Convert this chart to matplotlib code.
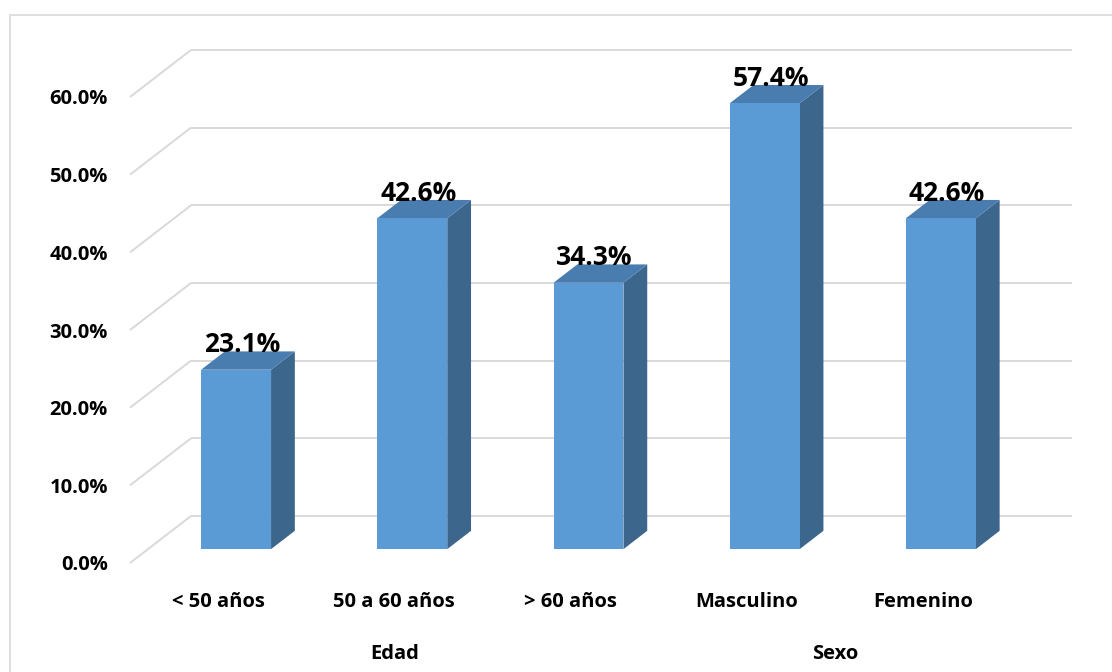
import matplotlib
matplotlib.use("Agg")
import matplotlib.pyplot as plt
from matplotlib.patches import Polygon, Rectangle
from matplotlib.transforms import blended_transform_factory

# Data
categories = ["< 50 años", "50 a 60 años", "> 60 años", "Masculino", "Femenino"]
values = [23.1, 42.6, 34.3, 57.4, 42.6]
groups = ["Edad", "Sexo"]
group_members = [[0, 1, 2], [3, 4]]
y_ticks = [0, 10, 20, 30, 40, 50, 60]

# Styling
FONT = ["Open Sans", "DejaVu Sans"]
FRONT_COLOR = "#5b9bd5"
SIDE_COLOR = "#3c668c"
TOP_COLOR = "#4a7daf"
GRID_COLOR = "#d9d9d9"

# 3-D geometry (depth of the floor, bar placement inside that depth)
DEPTH_X = 0.346      # category units
DEPTH_Y = 6.05       # percent units
BAR_FRONT = 0.295    # fraction of depth where the bar front sits
BAR_DEPTH = 0.39     # fraction of depth taken by the bar
BAR_W = 0.397

W, H = 1112, 672
fig = plt.figure(figsize=(W / 100, H / 100), dpi=100)
fig.patch.set_facecolor("white")

# chart-area frame (top and left edges visible)
fig.add_artist(Rectangle((10 / W, -0.05), 1.2, 1 - 15 / H + 0.05,
                         transform=fig.transFigure, fill=False,
                         edgecolor=GRID_COLOR, linewidth=1.2))

ax = fig.add_axes([130 / W, (H - 563) / H, 881 / W, 466 / H])
ax.set_xlim(-0.5, len(categories) - 0.5)
ax.set_ylim(0, 60)
for s in ax.spines.values():
    s.set_visible(False)
ax.patch.set_alpha(0)

# side-wall diagonals and back-wall gridlines
x0, x1 = -0.5, len(categories) - 0.5
for v in y_ticks:
    ax.plot([x0, x0 + DEPTH_X], [v, v + DEPTH_Y], color=GRID_COLOR,
            lw=1.4, clip_on=False, zorder=1, solid_capstyle="butt")
    ax.plot([x0 + DEPTH_X, x1 + DEPTH_X], [v + DEPTH_Y, v + DEPTH_Y],
            color=GRID_COLOR, lw=1.4, clip_on=False, zorder=1,
            solid_capstyle="butt")

# 3-D columns
base = BAR_FRONT * DEPTH_Y
sx = BAR_DEPTH * DEPTH_X
sy = BAR_DEPTH * DEPTH_Y
for i, v in enumerate(values):
    xc = i + BAR_FRONT * DEPTH_X
    xl, xr = xc - BAR_W / 2, xc + BAR_W / 2
    top = base + v
    ax.add_patch(Polygon([(xr, base), (xr + sx, base + sy),
                          (xr + sx, top + sy), (xr, top)], closed=True,
                         facecolor=SIDE_COLOR, edgecolor="none",
                         clip_on=False, zorder=3))
    ax.add_patch(Polygon([(xl, top), (xr, top), (xr + sx, top + sy),
                          (xl + sx, top + sy)], closed=True,
                         facecolor=TOP_COLOR, edgecolor="none",
                         clip_on=False, zorder=3))
    ax.bar(xc, v, width=BAR_W, bottom=base, color=FRONT_COLOR,
           edgecolor="none", clip_on=False, zorder=4)
    ax.annotate(f"{v:.1f}%", xy=(xc + sx / 4, top + sy),
                xytext=(0, -0.7), textcoords="offset points",
                ha="center", va="baseline", fontsize=19,
                fontweight="bold", family=FONT, color="black",
                annotation_clip=False, zorder=6)

# axes labels
ax.set_yticks(y_ticks)
ax.set_yticklabels([f"{t:.1f}%" for t in y_ticks])
ax.set_xticks(range(len(categories)))
ax.set_xticklabels(categories)
ax.tick_params(axis="y", length=0, pad=16, labelsize=14.5)
ax.tick_params(axis="x", length=0, pad=21, labelsize=14.5)
for lab in ax.get_xticklabels() + ax.get_yticklabels():
    lab.set_family(FONT)
    lab.set_fontweight("bold")

trans = blended_transform_factory(ax.transData, ax.transAxes)
for name, members in zip(groups, group_members):
    gx = sum(members) / len(members)
    ax.annotate(name, xy=(gx, 0), xycoords=trans, xytext=(0, -65.5),
                textcoords="offset points", ha="center", va="center",
                fontsize=14.5, fontweight="bold", family=FONT,
                annotation_clip=False)

fig.savefig("out.png", dpi=100, facecolor="white")
